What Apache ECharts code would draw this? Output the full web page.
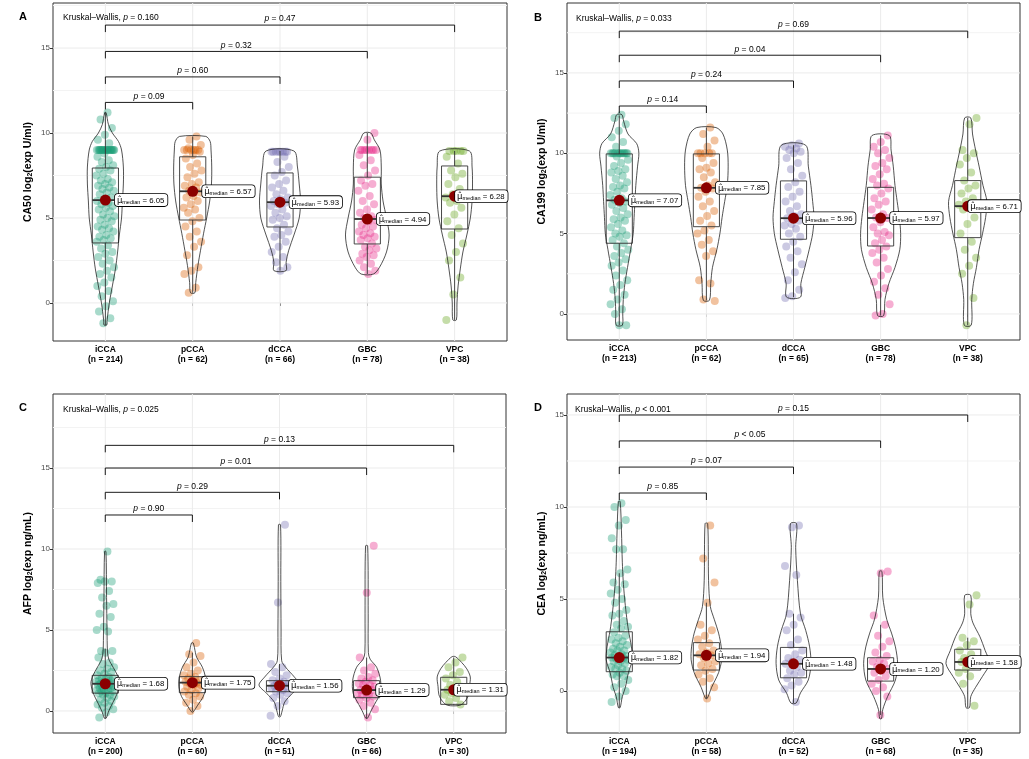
<!DOCTYPE html>
<html><head><meta charset="utf-8">
<script src="https://cdn.jsdelivr.net/npm/echarts@6/dist/echarts.min.js"></script>
<style>html,body{margin:0;padding:0;background:#fff}#c{width:1029px;height:759px}</style>
</head><body><div id="c"></div>
<script>
const categories = ['iCCA','pCCA','dCCA','GBC','VPC'];
const groupColors = ['#1B9E77','#D95F02','#7570B3','#E7298A','#66A61E'];
const yTickValues = [0,5,10,15];

// ---------- Panel A : CA50 ----------
const nA = [214,62,66,78,38];
const medianA = [6.05,6.57,5.93,4.94,6.28];
const boxA = [[-1.3,3.53,6.05,7.94,11.2],[0.6,4.88,6.57,8.6,9.8],[1.9,4.47,5.93,7.65,8.94],[1.7,3.47,4.94,7.4,10.0],[-1.0,4.35,6.28,8.06,8.94]];
const violinA = [
 [[-1.3,0.015],[-1,0.02],[0,0.045],[1,0.08],[2,0.115],[3,0.14],[4,0.16],[5,0.185],[6,0.195],[7,0.206],[8,0.206],[9,0.185],[9.5,0.15],[10,0.08],[10.5,0.035],[11.2,0.008]],
 [[0.6,0.025],[1.2,0.035],[2.2,0.06],[3.1,0.09],[4.1,0.125],[5,0.16],[6,0.195],[7,0.215],[8,0.218],[9,0.21],[9.5,0.2],[9.8,0.15]],
 [[1.9,0.07],[2.4,0.07],[3.1,0.1],[4,0.16],[5,0.22],[6,0.235],[7,0.22],[8,0.2],[8.94,0.16]],
 [[1.7,0.07],[2.1,0.14],[3,0.22],[4,0.25],[5,0.22],[6,0.18],[7,0.16],[8,0.16],[9,0.145],[9.6,0.08],[10,0.04]],
 [[-1,0.02],[0,0.027],[1,0.04],[2,0.065],[3,0.095],[4,0.14],[5,0.18],[6,0.2],[7,0.205],[8,0.2],[8.94,0.17]]
];
const pointsA = [
 [11.2,10.8,10.3,9.9,9.6,9.4,9,9,9,9,9,9,9,9,9,9,9,9,9,9,9,9,9,9,8.8,8.6,8.4,8.3,8.1,8.0,7.9,7.8,7.6,7.5,7.3,7.2,7.1,7.0,6.9,6.8,6.7,6.6,6.5,6.4,6.2,6.1,6.0,5.9,5.8,5.7,5.6,5.5,5.4,5.2,5.1,5.0,4.9,4.8,4.6,4.5,4.4,4.3,4.2,4.0,3.9,3.8,3.7,3.6,3.4,3.2,3.0,2.9,2.7,2.5,2.3,2.1,1.9,1.7,1.5,1.2,1.0,0.7,0.4,0.1,-0.2,-0.5,-0.9,-1.2],
 [9.8,9.6,9.3,9,9,9,9,9,9,9.1,8.9,8.7,8.5,8.2,8.0,7.8,7.6,7.4,7.1,7.0,6.9,6.8,6.6,6.5,6.3,6.2,6.0,5.8,5.6,5.5,5.3,5.0,4.8,4.5,4.2,3.9,3.6,3.3,2.8,2.1,1.9,1.7,0.9,0.6],
 [8.9,8.9,8.9,8.9,8.9,8.9,8.9,8.9,8.6,8.3,8.0,7.7,7.5,7.2,7.0,6.8,6.6,6.4,6.2,6.1,6.0,5.9,5.8,5.7,5.5,5.3,5.1,5.0,4.9,4.6,4.4,4.2,4.0,3.9,3.6,3.3,3.0,2.7,2.4,2.1,1.9],
 [10.0,9.6,9,9,9,9,9,9,9,9,8.7,8.4,8.1,7.8,7.5,7.2,7.0,6.9,6.6,6.3,6.0,5.8,5.5,5.3,5.1,5.0,4.9,4.8,4.6,4.5,4.4,4.2,4.1,4.0,3.9,3.8,3.7,3.5,3.3,3.2,3.1,2.9,2.8,2.7,2.5,2.3,2.1,1.9,1.7],
 [8.94,8.94,8.94,8.94,8.94,8.6,8.2,7.8,7.6,7.4,7.0,6.7,6.4,6.2,6.0,5.9,5.6,5.2,4.8,4.4,4.0,3.5,3.0,2.5,1.5,0.5,-1.0]
];
const bracketYA = [11.8,13.3,14.8,16.35];
const bracketPA = ['= 0.09','= 0.60','= 0.32','= 0.47'];
const kwPA = '= 0.160';

// ---------- Panel B : CA199 ----------
const nB = [213,62,65,78,38];
const medianB = [7.07,7.85,5.96,5.97,6.71];
const boxB = [[-0.7,4.4,7.07,9.96,12.35],[0.85,5.43,7.85,9.96,11.6],[1.05,4.65,5.96,8.28,10.5],[-0.1,4.23,5.97,7.88,11.1],[-0.7,4.75,6.71,8.3,12.2]];
const violinB = [
 [[-0.7,0.035],[0,0.04],[0.9,0.046],[1.9,0.065],[2.9,0.095],[4,0.13],[5,0.16],[6,0.17],[7,0.18],[8,0.19],[9.2,0.21],[10,0.225],[10.6,0.2],[11.2,0.1],[12,0.05],[12.4,0.03]],
 [[0.85,0.035],[1.9,0.05],[2.9,0.07],[4,0.12],[5,0.155],[6,0.18],[7,0.21],[8,0.24],[9.2,0.25],[10.2,0.24],[11.2,0.19],[11.6,0.11]],
 [[1.05,0.08],[1.9,0.085],[2.9,0.13],[4,0.18],[5,0.22],[6,0.235],[7,0.22],[8,0.2],[9.2,0.17],[10.5,0.14]],
 [[-0.1,0.035],[0.9,0.05],[1.9,0.095],[2.9,0.165],[4,0.22],[5,0.23],[6,0.215],[7,0.19],[8,0.165],[9.2,0.145],[10.2,0.12],[11.1,0.1]],
 [[-0.7,0.04],[0.9,0.046],[1.9,0.065],[2.9,0.1],[4,0.13],[5,0.17],[6,0.205],[7,0.22],[8,0.175],[9.2,0.13],[10.2,0.09],[11.2,0.055],[12.2,0.035]]
];
const pointsB = [
 [12.4,12.2,11.8,11.4,11.0,10.7,10.4,10,10,10,10,10,10,10,10,10,10,10,10,9.8,9.6,9.4,9.2,9.0,8.9,8.8,8.6,8.4,8.2,8.0,7.9,7.8,7.6,7.4,7.2,7.1,7.0,6.9,6.8,6.6,6.4,6.2,6.0,5.9,5.8,5.6,5.4,5.2,5.0,4.9,4.8,4.6,4.4,4.2,4.0,3.8,3.6,3.4,3.2,3.0,2.7,2.4,2.1,1.8,1.5,1.2,0.9,0.6,0.3,0.0,-0.7,-0.7],
 [11.6,11.2,10.8,10.4,10,10,10,10,10,9.7,9.4,9.1,9.0,8.8,8.5,8.2,8.0,7.85,7.8,7.6,7.3,7.0,6.7,6.4,6.1,5.8,5.5,5.2,5.0,4.6,4.3,3.9,3.6,2.1,1.9,0.9,0.8],
 [10.6,10.5,10.4,10.3,10.2,10.1,10.0,9.7,9.4,9.0,8.6,8.2,7.9,7.6,7.3,7.0,6.7,6.4,6.2,6.1,5.96,5.8,5.6,5.5,5.3,5.0,4.8,4.5,4.2,3.9,3.5,3.1,2.6,2.1,1.5,1.1,1.0],
 [11.1,10.7,10.4,10.2,10.0,9.7,9.4,9.2,9.0,8.7,8.4,8.1,8.0,7.8,7.5,7.2,7.0,6.8,6.5,6.2,6.0,5.97,5.7,5.4,5.1,5.0,4.9,4.6,4.4,4.2,4.0,3.8,3.5,3.2,2.8,2.4,2.0,1.6,1.2,0.6,0.0,-0.1],
 [12.2,11.8,10.2,10.0,9.7,9.3,8.8,8.3,8.0,7.8,7.5,7.2,7.0,6.8,6.71,6.5,6.0,5.6,5.0,4.5,4.0,3.5,3.0,2.5,1.0,-0.7]
];
const bracketYB = [12.94,14.5,16.1,17.6];
const bracketPB = ['= 0.14','= 0.24','= 0.04','= 0.69'];
const kwPB = '= 0.033';

// ---------- Panel C : AFP ----------
const nC = [200,60,51,66,30];
const medianC = [1.68,1.75,1.56,1.29,1.31];
const boxC = [[-0.45,1.1,1.68,2.2,3.85],[0.0,1.13,1.75,2.12,3.6],[-0.3,1.19,1.56,1.87,2.9],[-0.45,0.82,1.29,1.87,3.3],[0.35,0.41,1.31,2.08,3.3]];
const violinC = [
 [[-0.45,0.01],[0,0.04],[0.5,0.085],[1,0.13],[1.7,0.165],[2.2,0.14],[2.7,0.09],[3.2,0.04],[3.7,0.025],[5,0.02],[7,0.015],[9.85,0.008]],
 [[-0.05,0.01],[0.35,0.06],[0.9,0.125],[1.5,0.155],[2.1,0.15],[2.7,0.115],[3.3,0.05],[3.6,0.035],[4.2,0.01]],
 [[-0.35,0.01],[0,0.03],[0.55,0.06],[1.1,0.15],[1.6,0.235],[2.1,0.17],[2.7,0.07],[3.1,0.025],[5,0.018],[8,0.015],[11.5,0.012]],
 [[-0.45,0.01],[0,0.05],[0.4,0.09],[1.1,0.155],[1.9,0.16],[2.7,0.115],[3.2,0.04],[3.6,0.02],[6,0.018],[10.2,0.012]],
 [[0.35,0.07],[0.6,0.13],[1,0.17],[1.5,0.18],[2.1,0.19],[2.6,0.15],[3,0.09],[3.35,0.02]]
];
const pointsC = [
 [9.85,8.1,8.0,8.0,7.9,7.4,7.0,6.6,6.5,6.0,5.8,5.2,5.0,4.9,3.7,3.7,3.6,3.3,3.0,2.9,2.7,2.6,2.5,2.4,2.3,2.2,2.1,2.0,2.0,2.0,1.9,1.9,1.8,1.8,1.75,1.7,1.7,1.68,1.6,1.6,1.5,1.5,1.5,1.4,1.4,1.3,1.3,1.3,1.2,1.2,1.1,1.1,1.0,1.0,0.9,0.8,0.7,0.6,0.5,0.4,0.3,0.2,0.1,-0.1,-0.4],
 [4.2,3.5,3.4,3.0,2.7,2.5,2.3,2.2,2.1,2.0,1.9,1.9,1.8,1.75,1.7,1.6,1.6,1.5,1.4,1.3,1.2,1.1,1.0,0.9,0.7,0.5,0.3,0.0],
 [11.5,6.7,2.9,2.7,2.4,2.2,2.0,1.9,1.8,1.7,1.7,1.6,1.56,1.5,1.5,1.4,1.3,1.2,1.1,1.0,0.8,0.6,0.3,-0.3],
 [10.2,7.3,3.3,2.7,2.5,2.3,2.1,2.0,1.9,1.8,1.7,1.6,1.6,1.5,1.4,1.3,1.29,1.2,1.1,1.0,1.0,0.9,0.8,0.7,0.5,0.3,0.1,-0.4],
 [3.3,3.0,2.7,2.4,2.2,2.0,1.8,1.6,1.5,1.4,1.31,1.2,1.1,1.0,0.8,0.6,0.4]
];
const bracketYC = [12.1,13.5,15.0,16.4];
const bracketPC = ['= 0.90','= 0.29','= 0.01','= 0.13'];
const kwPC = '= 0.025';

// ---------- Panel D : CEA ----------
const nD = [194,58,52,68,35];
const medianD = [1.82,1.94,1.48,1.20,1.58];
const boxD = [[-0.9,1.05,1.82,3.22,6.4],[-0.4,1.14,1.94,2.63,4.8],[-0.65,0.72,1.48,2.37,4.2],[-1.3,0.54,1.20,1.81,3.6],[-0.9,1.14,1.58,2.27,2.9]];
const violinD = [
 [[-0.9,0.01],[-0.3,0.035],[0.2,0.07],[1,0.105],[1.7,0.15],[2.4,0.14],[3.3,0.105],[4.2,0.08],[5.1,0.06],[6,0.045],[7,0.035],[8.7,0.025],[10.3,0.01]],
 [[-0.4,0.01],[0.2,0.06],[1,0.14],[1.7,0.175],[2.4,0.17],[3.15,0.14],[3.9,0.09],[4.6,0.045],[6,0.025],[9.1,0.015]],
 [[-0.65,0.03],[-0.1,0.08],[0.6,0.17],[1.5,0.2],[2.4,0.185],[3.3,0.14],[4.2,0.08],[6,0.045],[7.8,0.025],[9.1,0.035]],
 [[-1.5,0.01],[-1,0.025],[-0.3,0.08],[0.6,0.17],[1.5,0.195],[2.4,0.17],[3.15,0.125],[3.9,0.07],[5.1,0.025],[6.5,0.015]],
 [[-0.9,0.02],[-0.3,0.035],[0.2,0.09],[0.8,0.17],[1.5,0.25],[2.2,0.2],[2.95,0.14],[3.7,0.06],[4.2,0.035],[5.2,0.035]]
];
const pointsD = [
 [10.2,10.0,9.3,9.0,8.3,7.7,7.7,6.6,6.4,5.9,5.8,5.5,5.3,5.0,4.8,4.4,4.2,4.1,3.8,3.6,3.5,3.4,3.2,3.0,2.9,2.8,2.7,2.6,2.5,2.4,2.3,2.2,2.2,2.1,2.0,1.95,1.9,1.85,1.82,1.8,1.75,1.7,1.6,1.6,1.5,1.4,1.3,1.2,1.2,1.1,1.0,0.9,0.8,0.8,0.6,0.4,0.2,0.0,-0.3,-0.6],
 [9.0,7.2,5.9,4.8,3.6,3.3,3.0,2.8,2.6,2.4,2.2,2.1,2.0,1.94,1.8,1.6,1.5,1.4,1.2,1.1,0.9,0.7,0.5,0.2,-0.4],
 [9.0,8.9,6.8,6.3,4.2,4.0,3.6,3.3,2.8,2.5,2.2,2.0,1.8,1.7,1.6,1.48,1.3,1.1,1.0,0.9,0.7,0.5,0.3,0.1,-0.6],
 [6.5,6.4,4.1,3.6,3.0,2.7,2.4,2.1,1.9,1.7,1.6,1.5,1.3,1.2,1.1,1.0,0.8,0.6,0.4,0.2,0.0,-0.3,-1.3],
 [5.2,4.7,2.9,2.7,2.5,2.2,2.0,1.8,1.7,1.6,1.58,1.4,1.2,1.0,0.8,0.4,-0.8]
];
const bracketYD = [10.76,12.17,13.59,15.0];
const bracketPD = ['= 0.85','= 0.07','< 0.05','= 0.15'];
const kwPD = '< 0.001';

// ---------- layout ----------
const FONT = '"Liberation Sans", Arial, Helvetica, sans-serif';
const panels = [
 {letter:'A', yName:['CA50 log','(exp U/ml)'], n:nA, med:medianA, box:boxA, vio:violinA, pts:pointsA, by:bracketYA, bp:bracketPA, kw:kwPA,
  grid:{left:53,top:3,width:454,height:338}, ymin:-2.24, ymax:17.65, letterPos:[14,6], kwPos:[58,8]},
 {letter:'B', yName:['CA199 log','(exp U/ml)'], n:nB, med:medianB, box:boxB, vio:violinB, pts:pointsB, by:bracketYB, bp:bracketPB, kw:kwPB,
  grid:{left:567,top:3,width:453,height:337}, ymin:-1.62, ymax:19.35, letterPos:[529,7], kwPos:[571,9]},
 {letter:'C', yName:['AFP log','(exp ng/mL)'], n:nC, med:medianC, box:boxC, vio:violinC, pts:pointsC, by:bracketYC, bp:bracketPC, kw:kwPC,
  grid:{left:53,top:394,width:453,height:339}, ymin:-1.36, ymax:19.57, letterPos:[14,397], kwPos:[58,400]},
 {letter:'D', yName:['CEA log','(exp ng/mL)'], n:nD, med:medianD, box:boxD, vio:violinD, pts:pointsD, by:bracketYD, bp:bracketPD, kw:kwPD,
  grid:{left:567,top:394,width:453,height:339}, ymin:-2.28, ymax:16.14, letterPos:[529,397], kwPos:[570,400]}
];

// horizontal jitter (position only, low-discrepancy sequence)
function jitter(i){ return (((i*0.6180339887)%1) - 0.5) * 0.21; }

const option = {animation:false, textStyle:{fontFamily:FONT}, grid:[], xAxis:[], yAxis:[], series:[], title:[]};

panels.forEach((P,k)=>{
 option.grid.push(Object.assign({show:true, backgroundColor:'#fff', borderColor:'#333', borderWidth:1, containLabel:false}, P.grid));
 const nArr = P.n;
 option.xAxis.push({type:'value', gridIndex:k, min:0.4, max:5.6,
  axisLine:{show:false}, splitLine:{show:false},
  axisTick:{show:true, customValues:[1,2,3,4,5], length:3, lineStyle:{color:'#333'}},
  axisLabel:{show:true, customValues:[1,2,3,4,5], margin:3,
   formatter:v=>{const i=Math.round(v)-1; return '{c|'+categories[i]+'}\n{c|(n = '+nArr[i]+')}';},
   rich:{c:{fontFamily:FONT, fontWeight:'bold', fontSize:8.5, color:'#000', lineHeight:10.5, align:'center'}}}});
 option.yAxis.push({type:'value', gridIndex:k, min:P.ymin, max:P.ymax,
  axisLine:{show:false}, splitLine:{show:false},
  axisTick:{show:true, customValues:yTickValues, length:3, lineStyle:{color:'#333'}},
  axisLabel:{customValues:yTickValues, fontSize:8, color:'#4d4d4d', margin:3, fontFamily:FONT},
  name:'{b|'+P.yName[0]+'}{s|2}{b|'+P.yName[1]+'}', nameLocation:'middle', nameGap:19, nameRotate:90,
  nameTextStyle:{rich:{b:{fontFamily:FONT, fontWeight:'bold', fontSize:10.5, color:'#000'},
   s:{fontFamily:FONT, fontWeight:'bold', fontSize:7, color:'#000', verticalAlign:'bottom', padding:[4,0,0,0]}}}});

 // gridlines
 const lines=[];
 [0,5,10,15].forEach(v=>{ if(v>P.ymin&&v<P.ymax) lines.push({h:true, v:v, major:true}); });
 [-2.5,2.5,7.5,12.5,17.5].forEach(v=>{ if(v>P.ymin&&v<P.ymax) lines.push({h:true, v:v, major:false}); });
 [1,2,3,4,5].forEach(v=>lines.push({h:false, v:v, major:true}));
 option.series.push({type:'custom', xAxisIndex:k, yAxisIndex:k, z:1, silent:true,
  data:lines.map(l=> l.h ? [1,l.v] : [l.v,0]),
  renderItem:(params,api)=>{
   const l=lines[params.dataIndex], cs=params.coordSys;
   const col = l.major ? '#EBEBEB' : '#F3F3F3';
   if(l.h){ const y=api.coord([1,l.v])[1];
    return {type:'line', shape:{x1:cs.x, y1:y, x2:cs.x+cs.width, y2:y}, style:{stroke:col, lineWidth:1}}; }
   const x=api.coord([l.v,0])[0];
   return {type:'line', shape:{x1:x, y1:cs.y, x2:x, y2:cs.y+cs.height}, style:{stroke:col, lineWidth:1}};
  }});

 // jittered points
 P.pts.forEach((arr,g)=>{
  option.series.push({type:'scatter', xAxisIndex:k, yAxisIndex:k, z:2, silent:true, symbolSize:8,
   itemStyle:{color:groupColors[g], opacity:0.38},
   data:arr.map((y,i)=>[g+1+jitter(i+g*5+1), y])});
 });

 // boxes
 const boxes=P.box;
 option.series.push({type:'custom', xAxisIndex:k, yAxisIndex:k, z:3, silent:true,
  data:boxes.map((b,i)=>[i+1,b[2]]),
  renderItem:(params,api)=>{
   const i=params.dataIndex, cx=i+1, b=boxes[i], hw=0.15;
   const tl=api.coord([cx-hw,b[3]]), br=api.coord([cx+hw,b[1]]);
   const top=api.coord([cx,b[4]]), bot=api.coord([cx,b[0]]);
   const m1=api.coord([cx-hw,b[2]]), m2=api.coord([cx+hw,b[2]]);
   const st={stroke:'#333', lineWidth:0.9};
   return {type:'group', children:[
    {type:'line', shape:{x1:top[0],y1:top[1],x2:top[0],y2:tl[1]}, style:st},
    {type:'line', shape:{x1:bot[0],y1:bot[1],x2:bot[0],y2:br[1]}, style:st},
    {type:'rect', shape:{x:tl[0],y:tl[1],width:br[0]-tl[0],height:br[1]-tl[1]}, style:{fill:'transparent', stroke:'#333', lineWidth:0.9}},
    {type:'line', shape:{x1:m1[0],y1:m1[1],x2:m2[0],y2:m2[1]}, style:{stroke:'#333', lineWidth:1.8}}
   ]};
  }});

 // violins
 const vio=P.vio;
 option.series.push({type:'custom', xAxisIndex:k, yAxisIndex:k, z:4, silent:true,
  data:vio.map((v,i)=>[i+1,P.med[i]]),
  renderItem:(params,api)=>{
   const i=params.dataIndex, cx=i+1, prof=vio[i];
   const right=prof.map(p=>api.coord([cx+p[1],p[0]]));
   const left=prof.slice().reverse().map(p=>api.coord([cx-p[1],p[0]]));
   return {type:'polygon', shape:{points:right.concat(left), smooth:0.3}, style:{fill:'transparent', stroke:'#1a1a1a', lineWidth:0.75}};
  }});

 // brackets
 const by=P.by, bp=P.bp;
 option.series.push({type:'custom', xAxisIndex:k, yAxisIndex:k, z:4, silent:true,
  data:by.map((y,i)=>[i+2,y]),
  renderItem:(params,api)=>{
   const i=params.dataIndex, y=by[i];
   const a=api.coord([1,y]), b=api.coord([i+2,y]), t=7;
   return {type:'group', children:[
    {type:'polyline', shape:{points:[[a[0],a[1]+t],[a[0],a[1]],[b[0],b[1]],[b[0],b[1]+t]]}, style:{stroke:'#000', lineWidth:0.9, fill:null}},
    {type:'text', x:(a[0]+b[0])/2, y:a[1]-1.5, style:{text:'{i|p} '+bp[i], align:'center', verticalAlign:'bottom', textAlign:'center', textVerticalAlign:'bottom',
      fill:'#000', fontSize:8.5, fontFamily:FONT, rich:{i:{fontStyle:'italic', fontSize:8.5, fontFamily:FONT, fill:'#000'}}}}
   ]};
  }});

 // medians with labels (last label is nudged left to stay inside the panel)
 option.series.push({type:'scatter', xAxisIndex:k, yAxisIndex:k, z:6, silent:true, symbolSize:11,
  itemStyle:{color:'#8B0000', opacity:1},
  data:P.med.map((m,i)=> i===4 ? {value:[i+1,m], label:{offset:[-9,0]}} : [i+1,m]),
  label:{show:true, position:'right', distance:4,
   formatter:p=>'{m|μ̂}{s|median}{v| = '+p.value[1].toFixed(2)+'}',
   backgroundColor:'#fff', borderColor:'#000', borderWidth:0.8, borderRadius:3, padding:[2,3,1,2],
   rich:{m:{fontFamily:'DejaVu Sans', fontSize:8.5, color:'#000'},
    s:{fontFamily:FONT, fontSize:5.5, color:'#000', verticalAlign:'bottom', padding:[3,0,0,0]},
    v:{fontFamily:FONT, fontSize:7.8, color:'#000'}}}});

 option.title.push({text:P.letter, left:P.letterPos[0], top:P.letterPos[1], textStyle:{fontFamily:FONT, fontWeight:'bold', fontSize:11, color:'#000'}});
 option.title.push({text:'{n|Kruskal–Wallis, }{i|p}{n| '+P.kw+'}', left:P.kwPos[0], top:P.kwPos[1],
  textStyle:{fontWeight:'normal', rich:{n:{fontFamily:FONT, fontSize:8.5, fontWeight:'normal', color:'#000'}, i:{fontFamily:FONT, fontSize:8.5, fontWeight:'normal', fontStyle:'italic', color:'#000'}}}});
});

const chart = echarts.init(document.getElementById('c'), null, {renderer:'canvas'});
chart.setOption(option);
</script>
</body></html>
